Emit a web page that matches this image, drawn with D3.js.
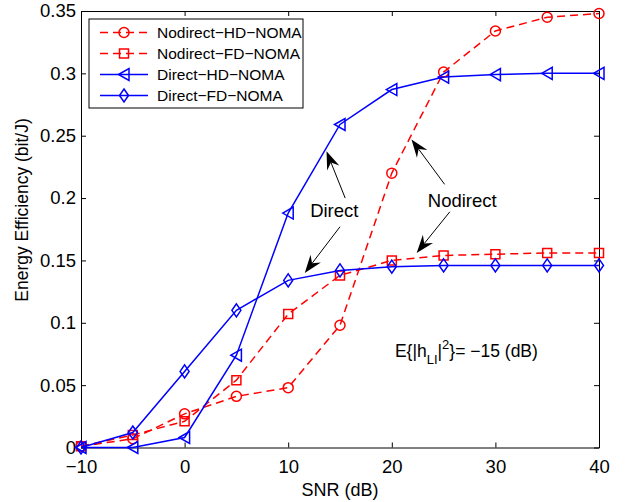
<!DOCTYPE html>
<html>
<head>
<meta charset="utf-8">
<script src="https://cdn.jsdelivr.net/npm/d3@7"></script>
<style>
  body { margin: 0; background: #fff; }
  text { font-family: "Liberation Sans", Arial, Helvetica, sans-serif; fill: #000; }
</style>
</head>
<body>
<script>
// data
var snr = [-10, -5, 0, 5, 10, 15, 20, 25, 30, 35, 40];
var nodirectHD = [0.001, 0.007, 0.027, 0.041, 0.048, 0.098, 0.220, 0.301, 0.334, 0.345, 0.348];
var nodirectFD = [0.001, 0.010, 0.021, 0.054, 0.107, 0.138, 0.150, 0.154, 0.155, 0.156, 0.156];
var directHD   = [0.000, 0.000, 0.008, 0.074, 0.188, 0.259, 0.287, 0.297, 0.299, 0.300, 0.300];
var directFD   = [0.000, 0.012, 0.061, 0.110, 0.134, 0.142, 0.145, 0.146, 0.146, 0.146, 0.146];
var xTicks = [-10, 0, 10, 20, 30, 40];
var yTicks = [0, 0.05, 0.1, 0.15, 0.2, 0.25, 0.3, 0.35];
var seriesNames = ["Nodirect\u2212HD\u2212NOMA", "Nodirect\u2212FD\u2212NOMA", "Direct\u2212HD\u2212NOMA", "Direct\u2212FD\u2212NOMA"];

// annotation arrows in data units: [tailX, tailY, tipX, tipY]
var directArrows = [[15.5, 0.200, 13.7, 0.2375], [15.0, 0.177, 11.6, 0.140]];
var nodirectArrows = [[25.1, 0.211, 21.9, 0.247], [25.6, 0.189, 22.4, 0.156]];

var margin = {top: 11, right: 26, bottom: 54.5, left: 81},
    width = 625 - margin.left - margin.right,
    height = 502 - margin.top - margin.bottom;

var x = d3.scaleLinear().domain([-10, 40]).range([0, width]);
var y = d3.scaleLinear().domain([0, 0.35]).range([height, 0]);

var svg = d3.select("body").append("svg")
    .attr("width", 625)
    .attr("height", 502)
  .append("g")
    .attr("transform", "translate(" + margin.left + "," + margin.top + ")");

// axes (MATLAB style: inward ticks, full box)
var tickLen = 5;
svg.append("g")
    .attr("transform", "translate(0," + height + ")")
    .call(d3.axisBottom(x).tickValues(xTicks).tickSizeInner(-tickLen).tickSizeOuter(0).tickPadding(12)
      .tickFormat(function(d) { return d < 0 ? "\u2212" + Math.abs(d) : d; }));
svg.append("g")
    .call(d3.axisTop(x).tickValues(xTicks).tickSizeInner(-tickLen).tickSizeOuter(0).tickFormat(""));
svg.append("g")
    .call(d3.axisLeft(y).tickValues(yTicks).tickSizeInner(-tickLen).tickSizeOuter(0).tickPadding(5)
      .tickFormat(function(d) { return d === 0 ? "0" : d3.format("")(+d.toFixed(2)); }));
svg.append("g")
    .attr("transform", "translate(" + width + ",0)")
    .call(d3.axisRight(y).tickValues(yTicks).tickSizeInner(-tickLen).tickSizeOuter(0).tickFormat(""));

svg.selectAll(".domain").attr("stroke", "#000").attr("stroke-width", 1);
svg.selectAll(".tick line").attr("stroke", "#000");
svg.selectAll(".tick text").style("font-size", "18.5px").style("font-family", "Liberation Sans, Arial, sans-serif");

// axis labels
svg.append("text")
    .attr("x", x(15))
    .attr("y", height + 48)
    .attr("text-anchor", "middle")
    .style("font-size", "18px")
    .text("SNR (dB)");
svg.append("text")
    .attr("transform", "translate(" + (-53) + "," + 199 + ") rotate(-90)")
    .attr("text-anchor", "middle")
    .style("font-size", "17.5px")
    .text("Energy Efficiency (bit/J)");

// marker shapes
function markerPath(type) {
  if (type === "circle") return d3.symbol().type(d3.symbolCircle).size(Math.PI * 25)();
  if (type === "square") return "M-4.5,-4.5H4.5V4.5H-4.5Z";
  if (type === "triangle") return "M-5.5,0L5,-6V6Z";
  return "M0,-6.5L4.5,0L0,6.5L-4.5,0Z";
}

var series = [
  {name: seriesNames[0], values: nodirectHD, color: "#ff0000", dash: "8,5", marker: "circle"},
  {name: seriesNames[1], values: nodirectFD, color: "#ff0000", dash: "8,5", marker: "square"},
  {name: seriesNames[2], values: directHD, color: "#0000ff", dash: null, marker: "triangle"},
  {name: seriesNames[3], values: directFD, color: "#0000ff", dash: null, marker: "diamond"}
];

var line = d3.line()
    .x(function(d) { return x(d[0]); })
    .y(function(d) { return y(d[1]); });

series.forEach(function(s) {
  var pts = snr.map(function(v, i) { return [v, s.values[i]]; });
  svg.append("path")
      .datum(pts)
      .attr("fill", "none")
      .attr("stroke", s.color)
      .attr("stroke-width", 1.5)
      .attr("stroke-dasharray", s.dash)
      .attr("d", line);
  svg.selectAll(null)
      .data(pts)
    .enter().append("path")
      .attr("transform", function(d) { return "translate(" + x(d[0]) + "," + y(d[1]) + ")"; })
      .attr("d", markerPath(s.marker))
      .attr("fill", "none")
      .attr("stroke", s.color)
      .attr("stroke-width", 1.5);
});

// arrows
function drawArrow(a) {
  var x1 = x(a[0]), y1 = y(a[1]), x2 = x(a[2]), y2 = y(a[3]);
  var ang = Math.atan2(y2 - y1, x2 - x1);
  var hl = 18, hw = 6.5, notch = 12;
  var g = svg.append("g");
  g.append("line")
      .attr("x1", x1).attr("y1", y1)
      .attr("x2", x2 - Math.cos(ang) * notch).attr("y2", y2 - Math.sin(ang) * notch)
      .attr("stroke", "#000").attr("stroke-width", 1);
  var c = Math.cos(ang), sn = Math.sin(ang);
  function pt(px, py) { return (x2 + px * c - py * sn) + "," + (y2 + px * sn + py * c); }
  g.append("path")
      .attr("d", "M" + pt(0, 0) + "L" + pt(-hl, -hw) + "L" + pt(-notch, 0) + "L" + pt(-hl, hw) + "Z")
      .attr("fill", "#000");
}
directArrows.forEach(drawArrow);
nodirectArrows.forEach(drawArrow);

svg.append("text")
    .attr("x", x(14.45)).attr("y", y(0.185))
    .attr("text-anchor", "middle")
    .style("font-size", "18.5px")
    .text("Direct");
svg.append("text")
    .attr("x", x(26.8)).attr("y", y(0.193))
    .attr("text-anchor", "middle")
    .style("font-size", "18.5px")
    .text("Nodirect");

// E{|h_LI|^2} = -15 (dB)
var eq = svg.append("text")
    .attr("x", x(20.3)).attr("y", y(0.0725))
    .style("font-size", "17.5px");
eq.append("tspan").text("E{|h");
eq.append("tspan").attr("dy", 7).style("font-size", "13px").text("LI");
eq.append("tspan").attr("dy", -7).text("|");
eq.append("tspan").attr("dy", -8).style("font-size", "13px").text("2");
eq.append("tspan").attr("dy", 8).text("}= \u221215 (dB)");

// legend
var lg = svg.append("g").attr("transform", "translate(8,8)");
lg.append("rect")
    .attr("width", 214).attr("height", 89)
    .attr("fill", "#fff").attr("stroke", "#000").attr("stroke-width", 1);
series.forEach(function(s, i) {
  var row = lg.append("g").attr("transform", "translate(0," + (13.5 + i * 21) + ")");
  row.append("line")
      .attr("x1", 11).attr("x2", 59).attr("y1", 0).attr("y2", 0)
      .attr("stroke", s.color).attr("stroke-width", 1.5)
      .attr("stroke-dasharray", s.dash);
  row.append("path")
      .attr("transform", "translate(35,0)")
      .attr("d", markerPath(s.marker))
      .attr("fill", "none").attr("stroke", s.color).attr("stroke-width", 1.5);
  row.append("text")
      .attr("x", 68).attr("y", 5.5)
      .style("font-size", "15.5px")
      .text(s.name);
});
</script>
</body>
</html>
